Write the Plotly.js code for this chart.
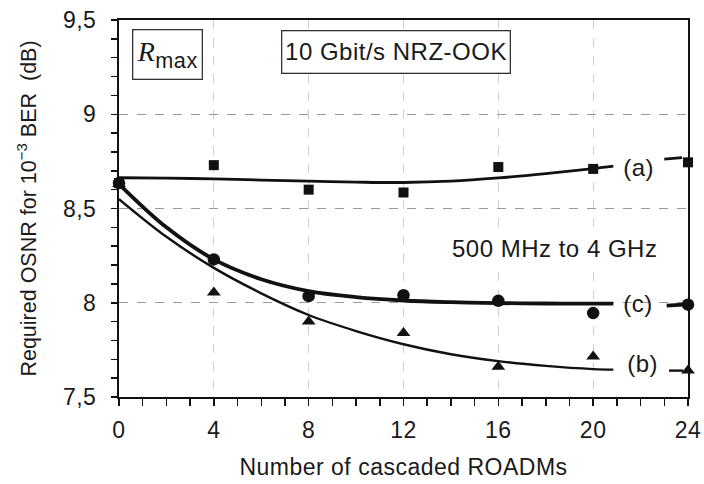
<!DOCTYPE html>
<html>
<head>
<meta charset="utf-8">
<script src="https://cdn.plot.ly/plotly-3.0.1.min.js"></script>
<style>
html,body{margin:0;padding:0;background:#fff;}
#chart{width:704px;height:484px;}
#chart text{letter-spacing:0.5px;}
#chart text.ytitle{letter-spacing:0;}
</style>
</head>
<body>
<div id="chart"></div>
<script>
// Measured points
const roadms = [0, 4, 8, 12, 16, 20, 24];
const seriesA = [8.635, 8.73, 8.60, 8.585, 8.72, 8.71, 8.745];   // squares (a)
const seriesC = [8.635, 8.23, 8.035, 8.04, 8.01, 7.945, 7.99];   // circles (c)
const seriesB = [8.63, 8.055, 7.90, 7.84, 7.66, 7.715, 7.64];    // triangles (b)

// Fitted curves
const fitAx = [0, 2, 4, 6, 8, 10, 12, 14, 16, 18, 20, 20.85];
const fitAy = [8.663, 8.661, 8.657, 8.651, 8.645, 8.64, 8.638, 8.645, 8.662, 8.685, 8.712, 8.725];
const tailAx = [23.0, 23.75];
const tailAy = [8.762, 8.77];

const fitCx = [0, 2, 4, 6, 8, 10, 12, 14, 16, 18, 20, 20.85];
const fitCy = [8.63, 8.40, 8.23, 8.125, 8.062, 8.03, 8.012, 8.003, 7.998, 7.996, 7.995, 7.995];
const tailCx = [23.1, 23.8];
const tailCy = [7.985, 7.99];

const fitBx = [0, 2, 4, 6, 8, 10, 12, 14, 16, 18, 20, 20.85];
const fitBy = [8.55, 8.35, 8.185, 8.05, 7.935, 7.85, 7.78, 7.727, 7.69, 7.665, 7.648, 7.645];
const tailBx = [23.2, 23.8];
const tailBy = [7.64, 7.64];

const xTicks = [0, 4, 8, 12, 16, 20, 24];
const yTicks = [7.5, 8, 8.5, 9, 9.5];

const FONT = "'Liberation Sans', Arial, sans-serif";

function curve(x, y, w) {
  return {x: x, y: y, type: 'scatter', mode: 'lines', line: {color: '#111', width: w, shape: 'spline', smoothing: 1}, hoverinfo: 'skip', showlegend: false};
}
function pts(y, sym, size) {
  return {x: roadms, y: y, type: 'scatter', mode: 'markers', marker: {symbol: sym, size: size, color: '#111'}, showlegend: false, cliponaxis: false};
}

const data = [
  curve(fitAx, fitAy, 2.8), curve(tailAx, tailAy, 2.8),
  curve(fitCx, fitCy, 3.8), curve(tailCx, tailCy, 3.8),
  curve(fitBx, fitBy, 2.4), curve(tailBx, tailBy, 2.4),
  pts(seriesA, 'square', 10),
  pts(seriesB, 'triangle-up', 12),
  pts(seriesC, 'circle', 12.5)
];

const layout = {
  width: 704, height: 484,
  margin: {l: 119, r: 16, t: 20, b: 87},
  paper_bgcolor: '#fff', plot_bgcolor: '#fff',
  separators: ', ',
  font: {family: FONT, size: 23, color: '#1a1a1a'},
  showlegend: false,
  xaxis: {
    range: [0, 24], tickvals: xTicks, ticktext: xTicks.map(String),
    showline: true, linecolor: '#111', linewidth: 2, mirror: true,
    ticks: 'outside', ticklen: 7, tickwidth: 1.5, tickcolor: '#111',
    minor: {dtick: 1, tick0: 0, ticks: 'outside', ticklen: 7, tickwidth: 1.5, tickcolor: '#111', showgrid: false},
    showgrid: true, gridcolor: '#cfcfcf', griddash: 'dash', gridwidth: 1,
    zeroline: false,
    ticklabelstandoff: 4,
    tickfont: {family: FONT, size: 23},
    title: {text: 'Number of cascaded ROADMs', font: {family: FONT, size: 23}, standoff: 17}
  },
  yaxis: {
    range: [7.5, 9.5], tickvals: yTicks,
    showline: true, linecolor: '#111', linewidth: 2, mirror: true,
    ticks: 'outside', ticklen: 6, tickwidth: 1.5, tickcolor: '#111',
    minor: {dtick: 0.1, tick0: 7.5, ticks: 'outside', ticklen: 6, tickwidth: 1.5, tickcolor: '#111', showgrid: false},
    showgrid: true, gridcolor: '#9a9a9a', griddash: 'dash', gridwidth: 1,
    zeroline: false,
    ticklabelstandoff: 10,
    tickfont: {family: FONT, size: 23},
    title: {text: 'Required OSNR for 10<sup>−3</sup> BER  (dB)', font: {family: FONT, size: 21.5}, standoff: 22}
  },
  annotations: [
    {xref: 'paper', yref: 'paper', x: 0.0844, y: 0.909, xanchor: 'center', yanchor: 'middle',
     text: '<span style="font-family:\'Liberation Serif\',serif;font-size:28px"><i>R</i></span><sub>max</sub>',
     font: {family: FONT, size: 31, color: '#1a1a1a'}, showarrow: false,
     bordercolor: '#333', borderwidth: 1.3, borderpad: 3, width: 62, height: 42, bgcolor: '#fff'},
    {xref: 'paper', yref: 'paper', x: 0.284, y: 0.916, xanchor: 'left', yanchor: 'middle',
     text: '10 Gbit/s NRZ-OOK', font: {family: FONT, size: 24, color: '#1a1a1a'}, showarrow: false,
     bordercolor: '#333', borderwidth: 1.3, borderpad: 7, bgcolor: '#fff'},
    {xref: 'paper', yref: 'paper', x: 0.7645, y: 0.3926, xanchor: 'center', yanchor: 'middle',
     text: '500 MHz to 4 GHz', font: {family: FONT, size: 24, color: '#1a1a1a'}, showarrow: false,
     bgcolor: '#fff', borderpad: 3},
    {xref: 'x', yref: 'y', x: 21.9, y: 8.715, text: '(a)', showarrow: false, font: {family: FONT, size: 24, color: '#1a1a1a'}},
    {xref: 'x', yref: 'y', x: 21.9, y: 7.995, text: '(c)', showarrow: false, font: {family: FONT, size: 24, color: '#1a1a1a'}},
    {xref: 'x', yref: 'y', x: 22.1, y: 7.68, text: '(b)', showarrow: false, font: {family: FONT, size: 24, color: '#1a1a1a'}}
  ]
};

Plotly.newPlot('chart', data, layout, {staticPlot: true, displayModeBar: false});
</script>
</body>
</html>
